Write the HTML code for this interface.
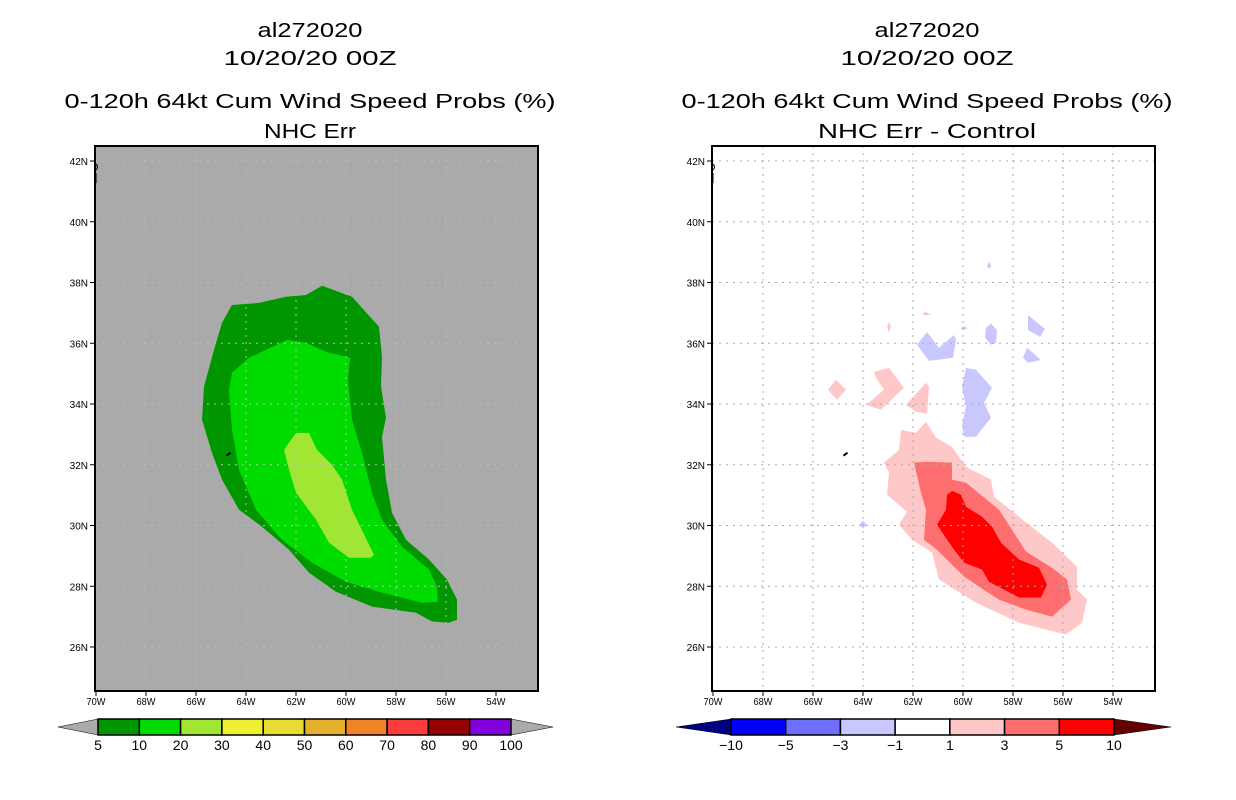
<!DOCTYPE html>
<html><head><meta charset="utf-8"><style>
html,body{margin:0;padding:0;background:#fff;}
svg{display:block;font-family:"Liberation Sans",sans-serif;}
</style></head><body>
<svg id="root" width="1236" height="800" viewBox="0 0 1236 800" xmlns="http://www.w3.org/2000/svg"></svg>
<script>
// ---- data ----
const lonTicks=[70,68,66,64,62,60,58,56,54];
const latTicks=[42,40,38,36,34,32,30,28,26];
const titleLines=["al272020","10/20/20 00Z","0-120h 64kt Cum Wind Speed Probs (%)"];
const leftSub="NHC Err", rightSub="NHC Err - Control";
const leftLevels=["5","10","20","30","40","50","60","70","80","90","100"];
const leftColors=["#009600","#00dc00","#a0e632","#f0f032","#e6dc32","#e6af2d","#f08228","#fa3c3c","#960000","#8200dc"];
const rightLevels=["-10","-5","-3","-1","1","3","5","10"];
const rightColors=["#0000ff","#6e6eff","#c8c8ff","#ffffff","#ffc8c8","#ff6e6e","#ff0000"];
// contour polygons [lon W, lat N]
const leftC5=[[64.56,37.26],[63.48,37.33],[62.4,37.53],[61.6,37.59],[60.96,37.89],[59.76,37.53],[58.68,36.54],[58.56,35.55],[58.6,34.57],[58.4,33.55],[58.56,32.92],[58.4,31.51],[58.16,30.42],[57.6,29.53],[56.68,28.88],[55.96,28.22],[55.56,27.56],[55.56,26.9],[55.88,26.8],[56.56,26.84],[57.2,27.13],[58.96,27.33],[60.4,27.82],[61.48,28.45],[62.28,29.2],[63.36,29.96],[64.28,30.52],[64.96,31.51],[65.36,32.39],[65.76,33.48],[65.68,34.57],[65.28,35.78],[64.96,36.67]];
const leftC10=[[64.56,35.03],[63.88,35.52],[62.36,36.11],[61.6,36.01],[60.8,35.72],[59.84,35.52],[59.92,34.8],[59.76,33.48],[59.36,32.39],[58.96,31.08],[58.56,30.19],[57.76,29.3],[56.68,28.55],[56.36,27.99],[56.32,27.49],[56.96,27.46],[58.56,27.79],[60.0,28.15],[61.36,28.78],[62.56,29.53],[63.6,30.52],[64.28,31.84],[64.56,33.15],[64.68,34.47]];
const leftC20=[[62.0,33.05],[61.48,33.05],[61.16,32.49],[60.56,32.0],[60.16,31.51],[59.76,30.52],[58.88,29.04],[59.0,28.94],[59.88,28.94],[60.68,29.43],[61.2,30.19],[62.0,31.08],[62.28,31.84],[62.48,32.49]];
const rightP1=[[62.48,33.15],[61.88,33.05],[61.48,33.41],[61.08,32.89],[60.44,32.59],[59.88,31.93],[58.88,31.51],[58.76,30.95],[57.76,30.29],[56.44,29.43],[55.44,28.64],[55.44,27.89],[55.04,27.56],[55.24,26.8],[55.88,26.41],[57.76,26.8],[59.48,27.46],[60.96,28.22],[61.24,29.11],[62.04,29.53],[62.56,30.03],[62.24,30.45],[63.04,31.01],[62.96,31.74],[63.16,32.07],[62.56,32.49]];
const rightP3=[[61.96,32.07],[61.48,32.1],[60.44,32.07],[60.44,31.51],[59.88,31.41],[58.56,30.52],[58.04,29.86],[57.48,29.14],[56.44,28.61],[55.84,28.22],[55.68,27.56],[56.44,27.0],[57.48,27.23],[58.56,27.56],[59.36,27.99],[59.96,28.32],[61.04,29.2],[61.56,29.53],[61.48,30.52],[61.68,31.08]];
const rightP5=[[60.64,31.01],[60.44,31.14],[60.08,31.01],[59.88,30.62],[59.24,30.29],[58.84,29.96],[58.48,29.43],[57.76,28.88],[56.96,28.61],[56.64,28.05],[56.88,27.63],[57.76,27.63],[58.96,28.15],[59.24,28.55],[59.96,28.78],[60.44,29.3],[61.04,30.03],[60.68,30.52]];
const pinkBlobs=[
 [[65.4,34.47],[65.08,34.8],[64.68,34.47],[65.04,34.14]],
 [[63.56,35.06],[62.96,35.19],[62.36,34.53],[63.28,33.81],[63.88,33.97],[63.16,34.47],[63.48,34.86]],
 [[62.28,33.97],[61.48,34.7],[61.36,34.57],[61.44,33.68],[61.88,33.74]],
 [[61.65,36.97],[61.48,37.03],[61.3,36.97],[61.48,36.9]],
 [[63.04,36.55],[62.96,36.7],[62.88,36.55],[62.96,36.35]]];
const blueBlobs=[
 [[61.84,35.95],[61.44,36.37],[60.96,35.85],[60.36,36.27],[60.28,36.11],[60.4,35.52],[61.36,35.42]],
 [[59.88,35.19],[59.48,35.13],[58.84,34.53],[59.16,34.04],[58.88,33.55],[59.48,32.92],[59.96,32.92],[60.04,33.32],[59.88,33.91],[60.04,34.57]],
 [[59.08,36.51],[58.88,36.64],[58.64,36.44],[58.68,36.01],[58.88,35.95],[59.12,36.18]],
 [[57.4,36.93],[56.72,36.47],[56.92,36.21],[57.4,36.44]],
 [[57.44,35.85],[56.88,35.45],[57.4,35.36],[57.6,35.52]],
 [[64.15,30.03],[64.0,30.15],[63.85,30.03],[64.0,29.9]],
 [[59.05,38.55],[58.96,38.67],[58.87,38.55],[58.96,38.45]],
 [[60.1,36.5],[59.96,36.56],[59.82,36.5],[59.96,36.44]]];

const NS="http://www.w3.org/2000/svg";
const root=document.getElementById('root');
function mk(tag,attrs,parent){const e=document.createElementNS(NS,tag);for(const k in attrs)e.setAttribute(k,attrs[k]);(parent||root).appendChild(e);return e;}

const PW=443, PT=146, PB=691;
function makeAxes(x0){
  return {x:lon=>x0+1+(70-lon)*25, y:lat=>161+(42-lat)*30.375};
}
function poly(ax,pts,fill,g,name){
  const p=mk('polygon',{points:pts.map(q=>ax.x(q[0]).toFixed(1)+','+ax.y(q[1]).toFixed(1)).join(' '),fill:fill},g);
  
  
}
function titles(cx,sub,subW){
  const widths=[105,173,491];const ys=[37,65,108];
  titleLines.forEach((t,i)=>{const e=mk('text',{x:cx,y:ys[i],'text-anchor':'middle','font-size':'20',textLength:widths[i],lengthAdjust:'spacingAndGlyphs'});e.textContent=t;
    
    });
  const e=mk('text',{x:cx,y:138,'text-anchor':'middle','font-size':'20',textLength:subW,lengthAdjust:'spacingAndGlyphs'});e.textContent=sub;
  
  
}
function panel(x0,bg,gridCol,name){
  const g=mk('g',{});
  
  
  const ax=makeAxes(x0);
  mk('rect',{x:x0,y:PT,width:PW,height:PB-PT,fill:bg},g);
  return {g,ax,x0,gridCol};
}
function finish(P){
  const {g,ax,x0,gridCol}=P;
  lonTicks.forEach(l=>{const x=ax.x(l);
    if(l!==70) mk('line',{x1:x,y1:PT,x2:x,y2:PB,stroke:gridCol,'stroke-width':1,'stroke-dasharray':'2,5'},g);
    mk('line',{x1:x,y1:PB,x2:x,y2:PB+5,stroke:'#000'},g);
    const t=mk('text',{x:x,y:705,'text-anchor':'middle','font-size':'10',textLength:19,lengthAdjust:'spacingAndGlyphs'},g);t.textContent=l+'W';
    
    });
  latTicks.forEach(l=>{const y=ax.y(l);
    mk('line',{x1:x0,y1:y,x2:x0+PW,y2:y,stroke:gridCol,'stroke-width':1,'stroke-dasharray':'2,5'},g);
    mk('line',{x1:x0-5,y1:y,x2:x0,y2:y,stroke:'#000'},g);
    const t=mk('text',{x:x0-7,y:y+4,'text-anchor':'end','font-size':'10'},g);t.textContent=l+'N';
    
    });
  // coastline bits
  mk('path',{d:`M${ax.x(64.78)} ${ax.y(32.3)} l4 -3`,stroke:'#000','stroke-width':2},g);
  mk('path',{d:`M${x0+1} ${ax.y(41.9)} q3 3 0 6 M${x0+1} ${ax.y(41.6)} v10`,stroke:'#000','stroke-width':1,fill:'none'},g);
  mk('rect',{x:x0,y:PT,width:PW,height:PB-PT,fill:'none',stroke:'#000','stroke-width':2},g);
}
// Left panel
titles(310,leftSub,92);
const L=panel(95,'#aaaaaa','#bbbbbb','left-map-panel');
poly(L.ax,leftC5,leftColors[0],L.g,'contour-5-10');
poly(L.ax,leftC10,leftColors[1],L.g,'contour-10-20');
poly(L.ax,leftC20,leftColors[2],L.g,'contour-20-30');
finish(L);
// Right panel
titles(927,rightSub,218);
const R=panel(712,'#ffffff','#aaaaaa','right-map-panel');
poly(R.ax,rightP1,rightColors[4],R.g,'diff-contour-1-3');
poly(R.ax,rightP3,rightColors[5],R.g,'diff-contour-3-5');
poly(R.ax,rightP5,rightColors[6],R.g,'diff-contour-5-10');
pinkBlobs.forEach(b=>poly(R.ax,b,rightColors[4],R.g,'diff-blob-positive'));
blueBlobs.forEach(b=>poly(R.ax,b,rightColors[2],R.g,'diff-blob-negative'));
finish(R);

// Colorbars
function colorbar(x0,x1,tipL,tipR,colors,levels,leftTip,rightTip,name){
  const g=mk('g',{});
  
  
  const y0=719,y1=735,ym=727,n=colors.length,w=(x1-x0)/n;
  mk('polygon',{points:`${tipL},${ym} ${x0},${y0} ${x0},${y1}`,fill:leftTip,stroke:'#000','stroke-width':0.5},g);
  mk('polygon',{points:`${tipR},${ym} ${x1},${y0} ${x1},${y1}`,fill:rightTip,stroke:'#000','stroke-width':0.5},g);
  colors.forEach((c,i)=>{const r=mk('rect',{x:x0+i*w,y:y0,width:w,height:y1-y0,fill:c,stroke:'#000','stroke-width':1.5},g);
    
    });
  levels.forEach((l,i)=>{const t=mk('text',{x:x0+i*w,y:750,'text-anchor':'middle','font-size':'14'},g);t.textContent=l.replace('-','\u2212');
    
    });
}
colorbar(98,511,58,553,leftColors,leftLevels,'#aaaaaa','#aaaaaa','left-colorbar');
colorbar(731,1114,676,1171,rightColors,rightLevels,'#000082','#640000','right-colorbar');
</script>
</body></html>
